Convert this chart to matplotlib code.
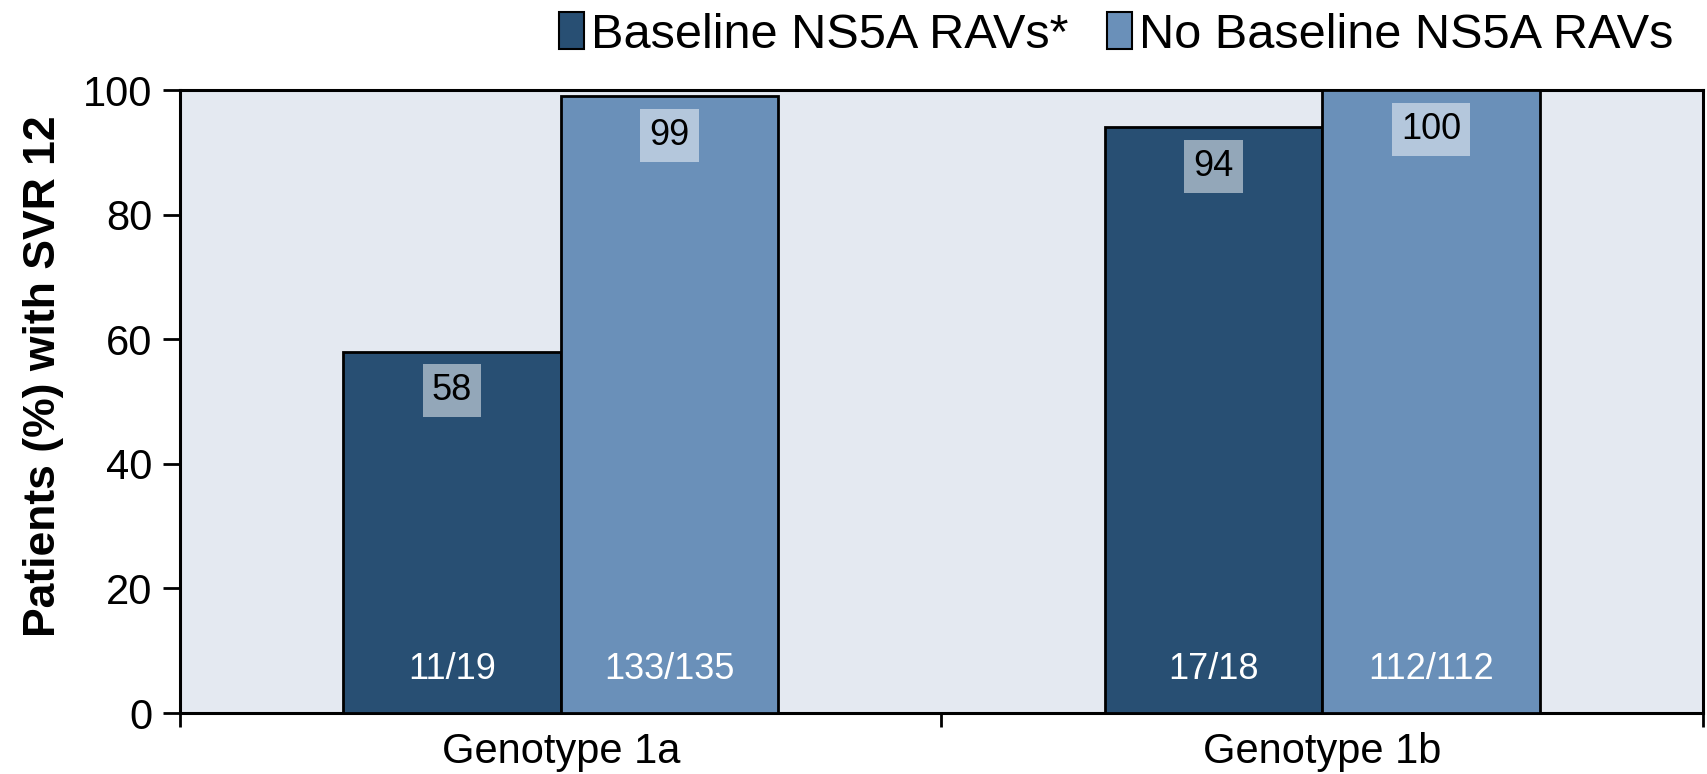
import numpy as np
import matplotlib.pyplot as plt
from matplotlib.patches import Patch

plt.rcParams['font.family'] = ['Liberation Sans', 'DejaVu Sans']

# data
genotypes = ['Genotype 1a', 'Genotype 1b']
series_names = ['Baseline NS5A RAVs*', 'No Baseline NS5A RAVs']
svr_with_ravs = [58, 94]
svr_without_ravs = [99, 100]
counts_with_ravs = ['11/19', '17/18']
counts_without_ravs = ['133/135', '112/112']

dark_blue = '#284F73'
light_blue = '#6A90B9'
plot_bg = '#E4E9F1'

fig = plt.figure(figsize=(17.08, 7.74), dpi=100)
ax = fig.add_axes([0.1054, 0.0788, 0.8916, 0.8049])
ax.set_facecolor(plot_bg)

x = np.arange(len(genotypes))
w = 0.2857

series = [
    (svr_with_ravs, counts_with_ravs, dark_blue, -w / 2),
    (svr_without_ravs, counts_without_ravs, light_blue, w / 2),
]
for vals, counts, color, off in series:
    bars = ax.bar(x + off, vals, w, color=color, edgecolor='black',
                  linewidth=2, zorder=3)
    for b, v, c in zip(bars, vals, counts):
        cx = b.get_x() + b.get_width() / 2
        # value label in a translucent box near the top of the bar
        ax.text(cx, v - 6.3, str(v), ha='center', va='center', fontsize=26,
                color='black', zorder=5,
                bbox=dict(boxstyle='square,pad=0.25', facecolor='white',
                          edgecolor='none', alpha=0.5))
        # n/N label at the bottom
        ax.text(cx, 7, c, ha='center', va='center', fontsize=26,
                color='white', zorder=5)

ax.set_xlim(-0.5, len(genotypes) - 0.5)
ax.set_ylim(0, 100)
ax.set_yticks([0, 20, 40, 60, 80, 100])
ax.set_xticks(x)
ax.set_xticklabels(genotypes)
ax.set_xticks(np.arange(-0.5, len(genotypes), 1.0), minor=True)
ax.tick_params(axis='x', which='major', length=0, labelsize=30, pad=14)
ax.tick_params(axis='x', which='minor', length=10, width=2, direction='out')
ax.tick_params(axis='y', length=12, width=2, direction='out', labelsize=30,
               pad=8)

for s in ax.spines.values():
    s.set_linewidth(2.2)
    s.set_color('black')

ax.set_ylabel('Patients (%) with SVR 12', fontsize=32, fontweight='bold')
ax.yaxis.set_label_coords(-0.076, 0.54)

handles = [Patch(facecolor=dark_blue, edgecolor='black', linewidth=1.5),
           Patch(facecolor=light_blue, edgecolor='black', linewidth=1.5)]
fig.legend(handles, series_names, loc='center right',
           bbox_to_anchor=(0.991, 0.955), ncol=2, frameon=False,
           fontsize=35, handlelength=0.5, handleheight=0.8,
           handletextpad=0.15, columnspacing=0.8, borderaxespad=0)

fig.savefig('out.png', dpi=100)
